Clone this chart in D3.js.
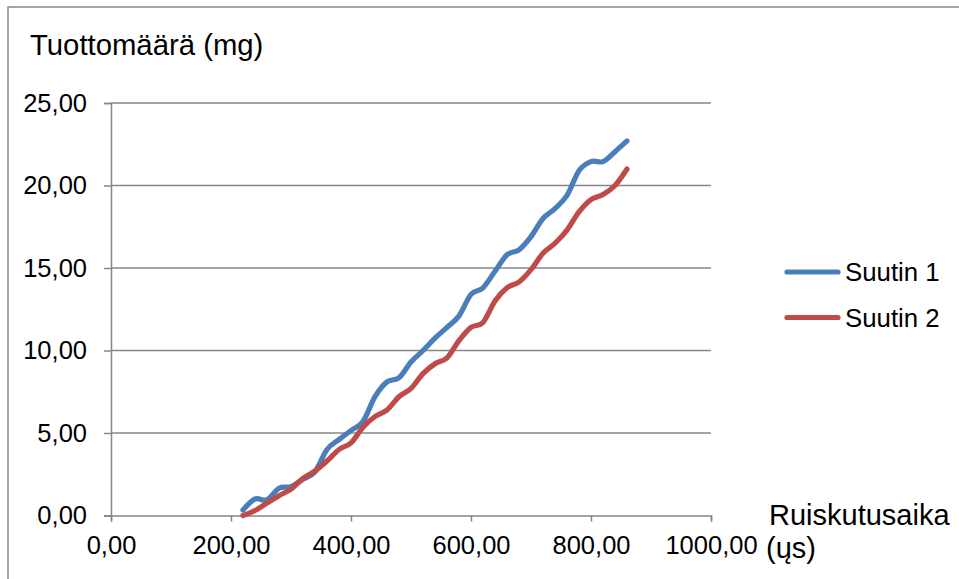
<!DOCTYPE html>
<html>
<head>
<meta charset="utf-8">
<script src="https://cdn.jsdelivr.net/npm/d3@7"></script>
<style>
  body { margin: 0; background: #fff; }
  svg { display: block; font-family: "Liberation Sans", Arial, sans-serif; }
</style>
</head>
<body>
<script>
const width = 959
const height = 579

// injection time (µs)
const times = [220, 240, 260, 280, 300, 320, 340, 360, 380, 400, 420, 440, 460, 480, 500, 520, 540,
  560, 580, 600, 620, 640, 660, 680, 700, 720, 740, 760, 780, 800, 820, 840, 860]
const suutin1 = [0.33, 1.0, 0.95, 1.65, 1.75, 2.2, 2.65, 4.0, 4.6, 5.15, 5.7, 7.2, 8.1, 8.35, 9.3, 10.0, 10.75,
  11.4, 12.1, 13.4, 13.8, 14.8, 15.8, 16.1, 16.9, 18.0, 18.6, 19.4, 20.9, 21.45, 21.45, 22.05, 22.7]
const suutin2 = [0.0, 0.3, 0.75, 1.2, 1.6, 2.25, 2.7, 3.3, 4.0, 4.4, 5.35, 6.0, 6.4, 7.2, 7.7, 8.6, 9.2,
  9.55, 10.6, 11.4, 11.7, 13.0, 13.8, 14.15, 14.9, 15.9, 16.5, 17.3, 18.4, 19.15, 19.45, 20.0, 21.0]
const seriesNames = ['Suutin 1', 'Suutin 2']
const colors = ['#4a7ebb', '#be4b48']
const xTicks = [0, 200, 400, 600, 800, 1000]
const yTicks = [0, 5, 10, 15, 20, 25]

const locale = d3.formatLocale({ decimal: ',', thousands: '', grouping: [3], currency: ['', ''] })
const fmt = locale.format('.2f')

const svg = d3.select('body').append('svg')
  .attr('width', width)
  .attr('height', height)

// chart border (runs off right and bottom)
svg.append('rect')
  .attr('x', 8).attr('y', 7)
  .attr('width', 1000).attr('height', 700)
  .attr('fill', 'none')
  .attr('stroke', '#898989')
  .attr('stroke-width', 1.5)

const x = d3.scaleLinear().domain([0, 1000]).range([111, 711])
const y = d3.scaleLinear().domain([0, 25]).range([515.5, 103])

// gridlines
svg.append('g')
  .selectAll('line')
  .data(yTicks.filter(d => d > 0))
  .enter().append('line')
  .attr('x1', x(0)).attr('x2', x(1000))
  .attr('y1', d => y(d)).attr('y2', d => y(d))
  .attr('stroke', '#868686')
  .attr('stroke-width', 1.5)

const yAxis = svg.append('g')
  .attr('transform', `translate(${x(0)},0)`)
  .call(d3.axisLeft(y).tickValues(yTicks).tickFormat(fmt).tickSize(7).tickPadding(17))
const xAxis = svg.append('g')
  .attr('transform', `translate(0,${y(0)})`)
  .call(d3.axisBottom(x).tickValues(xTicks).tickFormat(fmt).tickSize(6).tickPadding(14))

for (const ax of [xAxis, yAxis]) {
  ax.selectAll('.domain').attr('stroke', '#868686').attr('stroke-width', 1.5)
  ax.selectAll('.tick line').attr('stroke', '#868686').attr('stroke-width', 1.5)
  ax.selectAll('text').attr('fill', '#000').style('font-size', '25.5px')
}

const line = d3.line()
  .x((d, i) => x(times[i]))
  .y(d => y(d))
  .curve(d3.curveCardinal.tension(0))

svg.append('g')
  .selectAll('path')
  .data([suutin1, suutin2])
  .enter().append('path')
  .attr('d', line)
  .attr('fill', 'none')
  .attr('stroke', (d, i) => colors[i])
  .attr('stroke-width', 5.2)
  .attr('stroke-linecap', 'round')
  .attr('stroke-linejoin', 'round')

// axis titles
svg.append('text')
  .attr('x', 30).attr('y', 55)
  .style('font-size', '29.3px')
  .text('Tuottomäärä (mg)')

const xt = svg.append('text')
  .attr('x', 769).attr('y', 525)
  .style('font-size', '29px')
xt.append('tspan').attr('x', 769).text('Ruiskutusaika')
xt.append('tspan').attr('x', 766).attr('dy', 33).text('(ųs)')

// legend
const legend = svg.append('g')
  .selectAll('g')
  .data(seriesNames)
  .enter().append('g')
  .attr('transform', (d, i) => `translate(0,${272 + i * 45.5})`)
legend.append('line')
  .attr('x1', 787).attr('x2', 838)
  .attr('stroke', (d, i) => colors[i])
  .attr('stroke-width', 5.2)
  .attr('stroke-linecap', 'round')
legend.append('text')
  .attr('x', 845).attr('dy', '0.35em')
  .style('font-size', '25.8px')
  .text(d => d)
</script>
</body>
</html>
